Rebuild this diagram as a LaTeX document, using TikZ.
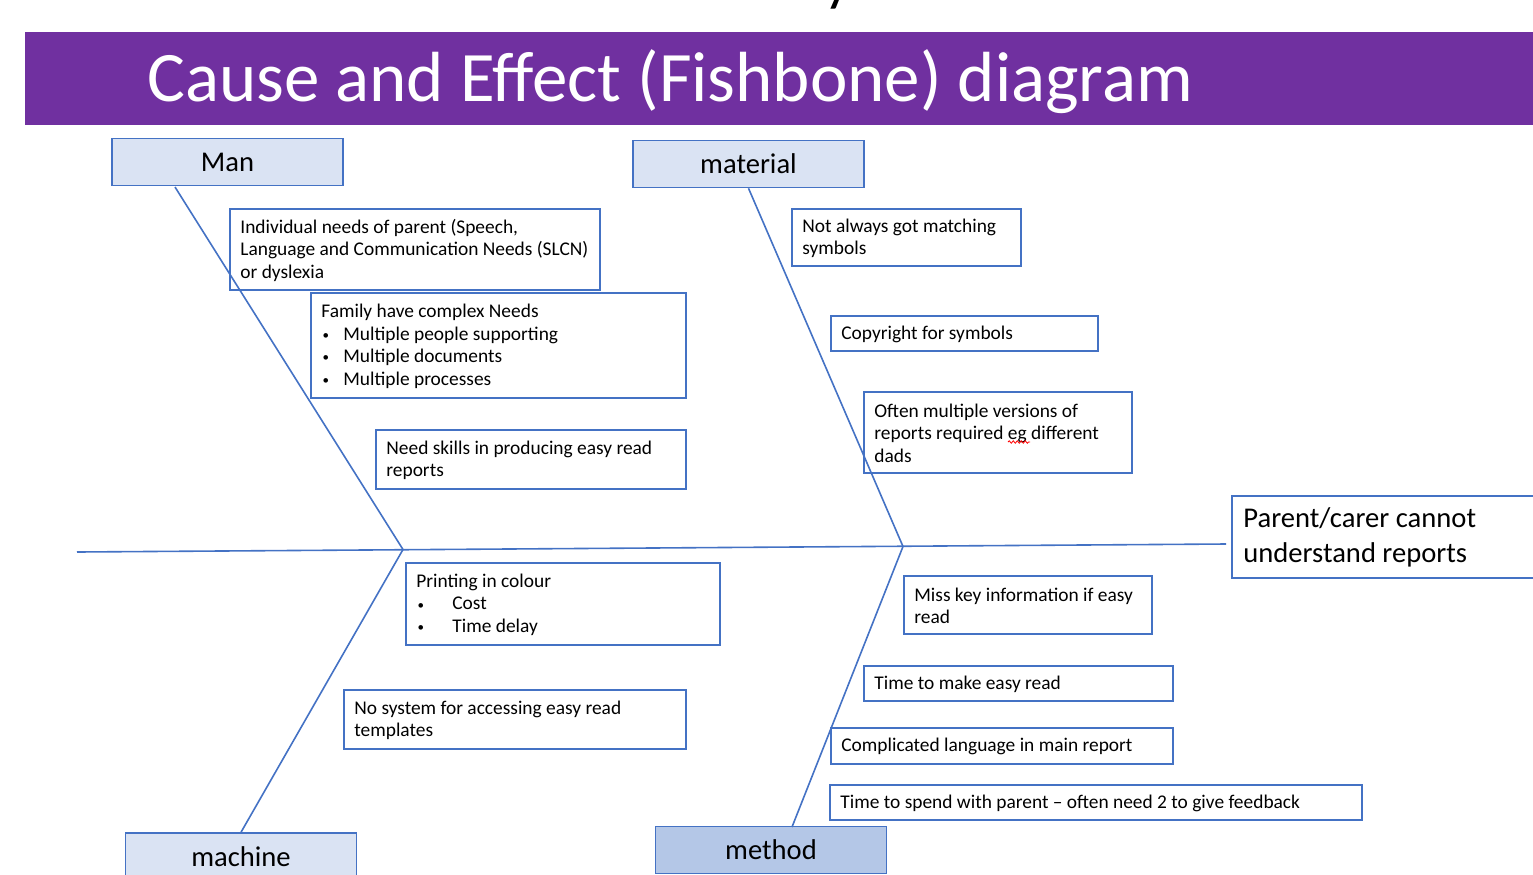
\documentclass[tikz,border=0pt]{standalone}
\usepackage{fontspec}
\setmainfont{Carlito}
\usetikzlibrary{decorations.pathmorphing}
\definecolor{titlepurple}{HTML}{7030A0}
\definecolor{lineblue}{HTML}{4472C4}
\definecolor{catfill}{HTML}{DAE3F3}
\definecolor{methfill}{HTML}{B4C7E7}
\newcommand{\bulitem}[1]{\makebox[#1][l]{\hspace{0.6pt}\raisebox{0.4pt}{\fontsize{6.5}{6.5}\selectfont\textbullet}}}
\begin{document}
\begin{tikzpicture}[x=0.5pt, y=-0.5pt,
  bone/.style={draw=lineblue, line width=0.8pt},
  cat/.style={draw=lineblue, line width=0.75pt, fill=catfill,
    font=\fontsize{14.3}{17}\selectfont, minimum width=115.5pt,
    minimum height=23.5pt, inner sep=0},
  tbox/.style={draw=lineblue, line width=0.75pt, anchor=north west, inner sep=0},
  txt/.style={anchor=west, align=left, inner sep=0,
    font=\fontsize{9.7}{11.35}\selectfont},
  bigtxt/.style={anchor=west, align=left, inner sep=0,
    font=\fontsize{14.3}{17.5}\selectfont}]
\useasboundingbox (0,0) rectangle (1533,874);
% fragment of a heading above the picture
\node[anchor=base, inner sep=0, font=\fontsize{30}{30}\selectfont] (topy) at (838,-1) {y};
% title bar
\fill[titlepurple] (25,32) rectangle (1533,125);
\node[anchor=base west, inner sep=0, text=white, font=\fontsize{35.5}{40}\selectfont] (title) at (147,101) {Cause and Effect (Fishbone) diagram};

% category boxes
\node[cat] (man) at (227.5,162) {Man};
\node[cat] (material) at (748.5,164) {material};
\node[cat, minimum height=24pt] (machine) at (241,857) {machine};
\node[cat, fill=methfill] (method) at (771,850) {method};

% effect box
\node[tbox, fill=white, minimum width=160pt, minimum height=41pt] (effect) at (1231,495) {};
\node[bigtxt] (effecttxt) at ([xshift=6pt,yshift=-0.5pt]effect.west) {Parent/carer cannot\\understand reports};

% spine and bones
\coordinate (tail) at (77,552);
\coordinate (head) at (1226,544);
\coordinate (j1) at (403,549.5);
\coordinate (j2) at (903,546.5);
\coordinate (manfoot) at (175,187);
\coordinate (methtop) at (792,827);
\draw[bone] (tail) -- (head);
\draw[bone] (manfoot) -- (j1);
\draw[bone] (j1) -- (machine.north);
\draw[bone] (material.south) -- (j2);
\draw[bone] (j2) -- (methtop);

% cause boxes - man
\node[tbox, minimum width=185pt, minimum height=40.5pt] (b1) at (229,208) {};
\node[txt] (t1) at ([xshift=5.5pt,yshift=-0.5pt]b1.west) {Individual needs of parent (Speech,\\Language and Communication Needs (SLCN)\\or dyslexia};
\node[tbox, minimum width=187.5pt, minimum height=52.5pt] (b2) at (310,292) {};
\node[txt] (t2) at ([xshift=5.5pt,yshift=-0.5pt]b2.west) {Family have complex Needs\\\bulitem{11pt}Multiple people supporting\\\bulitem{11pt}Multiple documents\\\bulitem{11pt}Multiple processes};
\node[tbox, minimum width=155pt, minimum height=29.5pt] (b3) at (375,429) {};
\node[txt] (t3) at ([xshift=5.5pt,yshift=-0.5pt]b3.west) {Need skills in producing easy read\\reports};

% cause boxes - material
\node[tbox, minimum width=114.5pt, minimum height=28.5pt] (b4) at (791,208) {};
\node[txt] (t4) at ([xshift=5.5pt,yshift=-0.5pt]b4.west) {Not always got matching\\symbols};
\node[tbox, minimum width=133.5pt, minimum height=17.5pt] (b5) at (830,315) {};
\node[txt] (t5) at ([xshift=5.5pt,yshift=-0.5pt]b5.west) {Copyright for symbols};
\node[tbox, minimum width=134pt, minimum height=40.5pt] (b6) at (863,391) {};
\node[txt] (t6) at ([xshift=5.5pt,yshift=-0.5pt]b6.west) {Often multiple versions of\\reports required eg different\\dads};
\draw[red, line width=0.4pt, decorate, decoration={snake, amplitude=0.6pt, segment length=2pt}] (1008,442) -- (1030,442);

% cause boxes - machine
\node[tbox, minimum width=157pt, minimum height=41pt] (b7) at (405,562) {};
\node[txt] (t7) at ([xshift=5.5pt,yshift=-0.5pt]b7.west) {Printing in colour\\\bulitem{18pt}Cost\\\bulitem{18pt}Time delay};
\node[tbox, minimum width=171pt, minimum height=29.5pt] (b8) at (343,689) {};
\node[txt] (t8) at ([xshift=5.5pt,yshift=-0.5pt]b8.west) {No system for accessing easy read\\templates};

% cause boxes - method
\node[tbox, minimum width=124pt, minimum height=29pt] (b9) at (903,575) {};
\node[txt] (t9) at ([xshift=5.5pt,yshift=-0.5pt]b9.west) {Miss key information if easy\\read};
\node[tbox, minimum width=154.5pt, minimum height=17.5pt] (b10) at (863,665) {};
\node[txt] (t10) at ([xshift=5.5pt,yshift=-0.5pt]b10.west) {Time to make easy read};
\node[tbox, minimum width=171pt, minimum height=18pt] (b11) at (830,727) {};
\node[txt] (t11) at ([xshift=5.5pt,yshift=-0.5pt]b11.west) {Complicated language in main report};
\node[tbox, minimum width=266pt, minimum height=17.5pt] (b12) at (829,784) {};
\node[txt] (t12) at ([xshift=5.5pt,yshift=-0.5pt]b12.west) {Time to spend with parent -- often need 2 to give feedback};
\end{tikzpicture}
\end{document}
